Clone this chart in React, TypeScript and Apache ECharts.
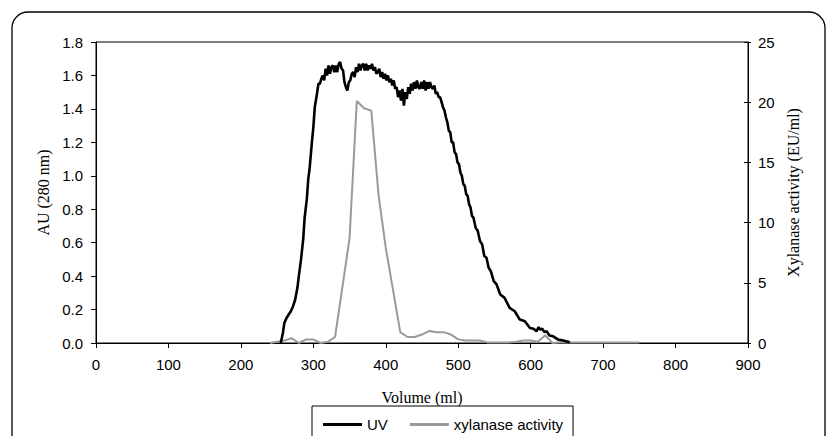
import React, { useEffect, useRef } from "react";
import * as echarts from "echarts";

const uvVolume = [255, 258, 260, 263, 266, 269, 272, 275, 278, 280, 283, 286, 288, 291, 293, 295, 298, 300, 302, 305, 307, 309, 311, 313, 315, 317, 319, 321, 323, 325, 327, 329, 331, 333, 335, 337, 339, 341, 343, 345, 347, 349, 351, 353, 355, 357, 359, 361, 363, 365, 367, 369, 371, 373, 375, 377, 379, 381, 383, 385, 387, 389, 391, 393, 395, 397, 399, 401, 403, 405, 407, 409, 411, 413, 415, 417, 419, 421, 423, 425, 427, 429, 431, 433, 435, 437, 439, 441, 443, 445, 447, 449, 451, 453, 455, 457, 459, 461, 463, 465, 467, 469, 471, 473, 475, 477, 479, 481, 483, 485, 487, 489, 491, 493, 495, 497, 499, 501, 503, 505, 507, 509, 511, 513, 515, 517, 519, 521, 524, 527, 530, 533, 536, 539, 542, 545, 549, 553, 558, 564, 571, 578, 585, 592, 599, 604, 608, 611, 613, 616, 619, 622, 626, 631, 638, 645, 654];
const uvValues = [0.0, 0.06, 0.12, 0.15, 0.17, 0.19, 0.22, 0.26, 0.33, 0.4, 0.5, 0.62, 0.75, 0.86, 0.98, 1.05, 1.2, 1.29, 1.41, 1.49, 1.55, 1.55, 1.58, 1.6, 1.57, 1.64, 1.6, 1.66, 1.61, 1.65, 1.66, 1.62, 1.66, 1.62, 1.67, 1.68, 1.64, 1.63, 1.56, 1.53, 1.51, 1.56, 1.57, 1.61, 1.62, 1.59, 1.65, 1.62, 1.67, 1.63, 1.66, 1.67, 1.63, 1.67, 1.63, 1.66, 1.64, 1.67, 1.63, 1.65, 1.61, 1.62, 1.64, 1.59, 1.62, 1.58, 1.61, 1.57, 1.6, 1.56, 1.58, 1.54, 1.57, 1.52, 1.53, 1.47, 1.51, 1.45, 1.52, 1.42, 1.5, 1.46, 1.53, 1.49, 1.55, 1.51, 1.56, 1.52, 1.57, 1.53, 1.52, 1.56, 1.52, 1.57, 1.51, 1.56, 1.52, 1.56, 1.53, 1.52, 1.54, 1.49, 1.5, 1.47, 1.47, 1.44, 1.41, 1.39, 1.35, 1.32, 1.27, 1.26, 1.2, 1.2, 1.14, 1.13, 1.08, 1.07, 1.02, 1.0, 0.95, 0.94, 0.89, 0.88, 0.83, 0.81, 0.76, 0.75, 0.69, 0.67, 0.61, 0.59, 0.52, 0.51, 0.45, 0.43, 0.37, 0.35, 0.29, 0.27, 0.21, 0.19, 0.14, 0.13, 0.09, 0.085, 0.07, 0.095, 0.08, 0.085, 0.065, 0.07, 0.045, 0.04, 0.02, 0.015, 0.005];

const xylVolume = [240, 250, 260, 270, 280, 290, 300, 310, 320, 330, 350, 360, 370, 380, 390, 400, 420, 430, 440, 450, 460, 470, 480, 490, 500, 510, 520, 530, 540, 550, 560, 570, 580, 590, 600, 610, 620, 630, 640, 650, 660, 670, 680, 690, 700, 710, 720, 730, 740, 750];
const xylValues = [0.0, 0.1, 0.2, 0.4, 0.0, 0.3, 0.3, 0.0, 0.1, 0.5, 8.7, 20.1, 19.5, 19.3, 12.3, 7.9, 0.9, 0.5, 0.5, 0.7, 1.0, 0.9, 0.9, 0.7, 0.3, 0.2, 0.2, 0.2, 0.05, 0.05, 0.05, 0.05, 0.1, 0.2, 0.2, 0.1, 0.65, 0.0, 0.05, 0.05, 0.05, 0.05, 0.05, 0.05, 0.05, 0.05, 0.05, 0.05, 0.05, 0.05];

const seriesNames = ["UV", "xylanase activity"];
const xAxisName = "Volume (ml)";
const leftAxisName = "AU (280 nm)";
const rightAxisName = "Xylanase activity (EU/ml)";

export default function App() {
  const ref = useRef<HTMLDivElement>(null);
  useEffect(() => {
    if (!ref.current) return;
    const chart = echarts.init(ref.current, undefined, { renderer: "svg" });
    const sans = "Liberation Sans, Arial, sans-serif";
    const serif = "Liberation Serif, Times New Roman, serif";
    const labelStyle = { color: "#000", fontFamily: sans, fontSize: 15 };
    const nameStyle = { color: "#000", fontFamily: serif, fontSize: 16 };
    chart.setOption({
      animation: false,
      backgroundColor: "#fff",
      graphic: [
        {
          type: "rect",
          shape: { x: 12, y: 12, width: 813, height: 440, r: 16 },
          style: { fill: "none", stroke: "#000", lineWidth: 1.3 },
          silent: true,
        },
      ],
      grid: {
        left: 96,
        right: 78,
        top: 42,
        bottom: 93,
        containLabel: false,
        show: true,
        borderColor: "#000",
        borderWidth: 1,
      },
      legend: {
        left: 312,
        top: 406,
        width: 266,
        padding: [11, 10, 20, 11],
        icon: "rect",
        itemWidth: 39,
        itemHeight: 3,
        itemGap: 22,
        borderColor: "#000",
        borderWidth: 1,
        backgroundColor: "#fff",
        textStyle: { color: "#000", fontFamily: sans, fontSize: 15 },
        data: seriesNames,
      },
      xAxis: {
        type: "value",
        min: 0,
        max: 900,
        interval: 100,
        name: xAxisName,
        nameLocation: "middle",
        nameGap: 46,
        nameTextStyle: nameStyle,
        axisLine: { show: true, lineStyle: { color: "#000", width: 1 } },
        axisTick: { show: true, length: 5, lineStyle: { color: "#000" } },
        axisLabel: { ...labelStyle, margin: 14 },
        splitLine: { show: false },
      },
      yAxis: [
        {
          type: "value",
          min: 0,
          max: 1.8,
          interval: 0.2,
          position: "left",
          name: leftAxisName,
          nameLocation: "middle",
          nameRotate: 90,
          nameGap: 45,
          nameTextStyle: nameStyle,
          axisLine: { show: true, lineStyle: { color: "#000", width: 1 } },
          axisTick: { show: true, length: 5, lineStyle: { color: "#000" } },
          axisLabel: { ...labelStyle, margin: 13, formatter: (v: number) => v.toFixed(1) },
          splitLine: { show: false },
        },
        {
          type: "value",
          min: 0,
          max: 25,
          interval: 5,
          position: "right",
          name: rightAxisName,
          nameLocation: "middle",
          nameRotate: 90,
          nameGap: 37,
          nameTextStyle: nameStyle,
          axisLine: { show: true, lineStyle: { color: "#000", width: 1 } },
          axisTick: { show: true, length: 3, lineStyle: { color: "#000" } },
          axisLabel: { ...labelStyle, margin: 10 },
          splitLine: { show: false },
        },
        {
          type: "value",
          min: 0,
          max: 25,
          interval: 5,
          position: "right",
          axisLine: { show: false },
          axisTick: { show: true, inside: true, length: 4, lineStyle: { color: "#000" } },
          axisLabel: { show: false },
          splitLine: { show: false },
        },
      ],
      series: [
        {
          name: seriesNames[0],
          type: "line",
          yAxisIndex: 0,
          symbol: "none",
          showSymbol: false,
          data: uvVolume.map((x, i) => [x, uvValues[i]]),
          lineStyle: { color: "#000", width: 2.6 },
          itemStyle: { color: "#000" },
          z: 3,
        },
        {
          name: seriesNames[1],
          type: "line",
          yAxisIndex: 1,
          symbol: "none",
          showSymbol: false,
          data: xylVolume.map((x, i) => [x, xylValues[i]]),
          lineStyle: { color: "#9a9a9a", width: 2 },
          itemStyle: { color: "#9a9a9a" },
          z: 2,
        },
      ],
    });
    return () => chart.dispose();
  }, []);
  return (
    <div
      ref={ref}
      style={{ position: "fixed", left: 0, top: 0, width: 826, height: 436, background: "#fff" }}
    />
  );
}
